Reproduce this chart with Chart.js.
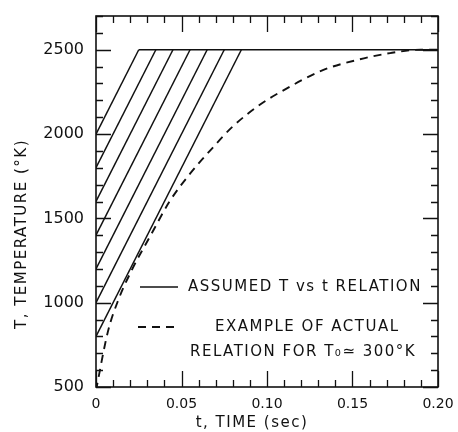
<!DOCTYPE html>
<html>
<head>
<meta charset="utf-8">
<script src="https://cdn.jsdelivr.net/npm/chart.js@4/dist/chart.umd.min.js"></script>
<style>
  html, body { margin: 0; padding: 0; background: #fff; }
  #wrap { width: 458px; height: 432px; }
</style>
</head>
<body>
<div id="wrap"><canvas id="tempChart" width="458" height="432"></canvas></div>
<script>
'use strict';

// assumed linear ramps: start temperature at t=0 and time they reach the plateau
const rampStartTemps = [2000, 1800, 1600, 1400, 1200, 1000, 800];
const rampEndTimes = [0.025, 0.035, 0.045, 0.055, 0.065, 0.075, 0.085];
const plateauTemp = 2500;
const plateauTimes = [0.025, 0.20];

// example of actual relation (T0 ~ 300 K)
const actualTimes = [0, 0.007, 0.013, 0.021, 0.032, 0.043, 0.055, 0.067, 0.080, 0.096, 0.108, 0.133, 0.153, 0.172, 0.190, 0.200];
const actualTemps = [480, 830, 1015, 1195, 1400, 1600, 1765, 1905, 2045, 2175, 2250, 2380, 2440, 2480, 2500, 2500];

// axis labels
const xTickLabels = [0, 0.05, 0.10, 0.15, 0.20];
const yTickLabels = [500, 1000, 1500, 2000, 2500];

const FONT = '"DejaVu Sans", sans-serif';
const INK = '#111';

/**
 * Build the datasets from the arrays above
 */
function buildDatasets() {
    const sets = [];

    rampStartTemps.forEach(function(t0, i) {
        sets.push({
            data: [{ x: 0, y: t0 }, { x: rampEndTimes[i], y: plateauTemp }],
            borderColor: INK,
            borderWidth: 1.5,
            pointRadius: 0,
            tension: 0
        });
    });

    sets.push({
        data: plateauTimes.map(t => ({ x: t, y: plateauTemp })),
        borderColor: INK,
        borderWidth: 1.5,
        pointRadius: 0
    });

    sets.push({
        data: actualTimes.map((t, i) => ({ x: t, y: actualTemps[i] })),
        borderColor: INK,
        borderWidth: 1.9,
        borderDash: [8, 6],
        pointRadius: 0,
        cubicInterpolationMode: 'monotone'
    });

    return sets;
}

/**
 * Keep the axis sizes fixed so the plot box lands where the original has it
 */
function fixAxisBox(size) {
    return function(scale) {
        if (scale.isHorizontal()) {
            scale.height = size;
        } else {
            scale.width = size;
        }
        scale.paddingTop = 0;
        scale.paddingBottom = 0;
        scale.paddingLeft = 0;
        scale.paddingRight = 0;
    };
}

/**
 * Frame with inward tick marks on all four sides, plus titles and legend
 */
const frameTicks = {
    id: 'frameTicks',
    beforeDraw(chart) {
        chart.ctx.letterSpacing = '0px';
    },
    afterDatasetsDraw(chart) {
        const ctx = chart.ctx;
        const area = chart.chartArea;
        const xs = chart.scales.x;
        const ys = chart.scales.y;

        ctx.save();
        ctx.strokeStyle = INK;
        ctx.lineWidth = 1.6;
        ctx.strokeRect(area.left, area.top, area.right - area.left, area.bottom - area.top);

        ctx.lineWidth = 1.3;
        ctx.beginPath();
        // y ticks every 100 K, long ones every 500 K
        for (let v = ys.min; v <= ys.max; v += 100) {
            const py = Math.round(ys.getPixelForValue(v)) + 0.5;
            const len = v % 500 === 0 ? 15 : 7;
            ctx.moveTo(area.left, py);
            ctx.lineTo(area.left + len, py);
            ctx.moveTo(area.right, py);
            ctx.lineTo(area.right - len, py);
        }
        // x ticks every 0.01 s, long ones every 0.05 s
        for (let k = 0; k <= 20; k++) {
            const px = Math.round(xs.getPixelForValue(k / 100)) + 0.5;
            const len = k % 5 === 0 ? 16 : 7;
            ctx.moveTo(px, area.bottom);
            ctx.lineTo(px, area.bottom - len);
            ctx.moveTo(px, area.top);
            ctx.lineTo(px, area.top + len);
        }
        ctx.stroke();
        ctx.restore();
    },
    afterDraw(chart) {
        const ctx = chart.ctx;
        const area = chart.chartArea;

        ctx.save();
        ctx.fillStyle = INK;
        ctx.strokeStyle = INK;
        ctx.letterSpacing = '1.5px';
        ctx.font = '15px ' + FONT;
        ctx.textBaseline = 'middle';

        // axis titles
        ctx.textAlign = 'center';
        ctx.fillText('t, TIME (sec)', area.left + 156, area.bottom + 36);
        ctx.save();
        ctx.translate(22, area.top + 218);
        ctx.rotate(-Math.PI / 2);
        ctx.fillText('T, TEMPERATURE (°K)', 0, 0);
        ctx.restore();

        // legend inside the plot
        ctx.lineWidth = 1.5;
        ctx.beginPath();
        ctx.moveTo(area.left + 44, area.top + 271);
        ctx.lineTo(area.left + 82, area.top + 271);
        ctx.stroke();

        ctx.lineWidth = 1.9;
        ctx.setLineDash([8, 6]);
        ctx.beginPath();
        ctx.moveTo(area.left + 42, area.top + 311);
        ctx.lineTo(area.left + 80, area.top + 311);
        ctx.stroke();
        ctx.setLineDash([]);

        ctx.textAlign = 'left';
        ctx.fillText('ASSUMED T vs t RELATION', area.left + 92, area.top + 271);
        ctx.fillText('EXAMPLE OF ACTUAL', area.left + 119, area.top + 311);
        ctx.fillText('RELATION FOR T₀≃ 300°K', area.left + 94, area.top + 336);
        ctx.restore();
    }
};

new Chart(document.getElementById('tempChart'), {
    type: 'line',
    data: { datasets: buildDatasets() },
    options: {
        responsive: false,
        animation: false,
        events: [],
        layout: { padding: { top: 16, right: 20, left: 0, bottom: 0 } },
        plugins: {
            legend: { display: false },
            tooltip: { enabled: false }
        },
        scales: {
            x: {
                type: 'linear',
                min: 0,
                max: 0.20,
                afterBuildTicks: function(scale) {
                    scale.ticks = xTickLabels.map(v => ({ value: v }));
                },
                afterFit: fixAxisBox(45),
                grid: { display: false, drawTicks: false },
                border: { display: false },
                ticks: {
                    padding: 9,
                    maxRotation: 0,
                    color: INK,
                    font: { family: FONT, size: 14 },
                    callback: v => (v === 0 ? '0' : v.toFixed(2))
                }
            },
            y: {
                type: 'linear',
                min: 500,
                max: 2700,
                afterBuildTicks: function(scale) {
                    scale.ticks = yTickLabels.map(v => ({ value: v }));
                },
                afterFit: fixAxisBox(96),
                grid: { display: false, drawTicks: false },
                border: { display: false },
                ticks: {
                    padding: 12,
                    color: INK,
                    font: { family: FONT, size: 16 },
                    callback: v => String(v)
                }
            }
        }
    },
    plugins: [frameTicks]
});
</script>
</body>
</html>
